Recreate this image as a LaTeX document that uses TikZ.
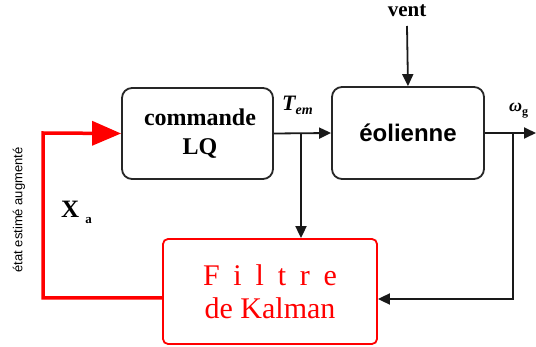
\documentclass[tikz,border=0pt]{standalone}
\usepackage{fontspec}
\setmainfont{Liberation Serif}
\setsansfont{Liberation Sans}
\usetikzlibrary{arrows.meta,calc}
\begin{document}
\begin{tikzpicture}[x=1pt,y=-1pt,
  blkbox/.style={draw=black!85,line width=1.8pt,rounded corners=10pt,align=center,inner sep=0pt},
  redbox/.style={draw=red,line width=1.8pt,rounded corners=5pt,align=center,inner sep=0pt,text=red},
  conn/.style={line width=1.8pt,draw=black!90,-{Triangle[length=12pt,width=11pt]}},
  plain/.style={line width=1.8pt,draw=black!90},
  redconn/.style={line width=3.5pt,draw=red,-{Triangle[length=29pt,width=24pt]}},
  lbl/.style={inner sep=0pt}
]
\useasboundingbox (0,0) rectangle (536,347);
\node[blkbox,minimum width=151pt,minimum height=91pt,
  font=\fontsize{24}{29}\selectfont\bfseries] (lq) at (197.5,133.5)
  {\hspace*{5pt}commande\\\hspace*{5pt}LQ};
\node[blkbox,minimum width=152pt,minimum height=92pt,
  font=\fontsize{24}{29}\selectfont\sffamily\bfseries] (eol) at (408,133) {éolienne};
\node[redbox,minimum width=214pt,minimum height=105pt,
  font=\fontsize{30}{35}\selectfont] (kal) at (270,291.5)
  {\makebox[134pt][s]{F\hfill i\hfill l\hfill t\hfill r\hfill e}\\[-2pt]de Kalman};

\node[lbl,font=\fontsize{21}{24}\selectfont\bfseries,anchor=base] (vent) at (407,17) {vent};
\draw[conn] (vent.south |- 0,26) coordinate (vs) -- (eol.north);

% Tem
\coordinate (b1) at (301,133);
\draw[conn] (lq.east) -- (eol.west);
\draw[conn] (b1) -- (b1 |- kal.north);
\node[lbl,anchor=base west] (tem) at (282,111)
  {\fontsize{22}{24}\selectfont\bfseries\itshape T\raisebox{-3.5pt}{\fontsize{14}{16}\selectfont em}};

% omega
\coordinate (out) at (536,133);
\coordinate (b2) at (513,133);
\coordinate (c2) at (513,299);
\draw[conn] (eol.east) -- (out);
\draw[conn] (b2) -- (c2) -- (c2 -| kal.east);
\node[lbl,anchor=base west] (om) at (509,112)
  {\fontsize{18}{20}\selectfont\bfseries\itshape ω\raisebox{-4pt}{\fontsize{12}{14}\selectfont\upshape g}};

% red feedback
\coordinate (r1) at (43,298);
\coordinate (r2) at (43,133);
\draw[redconn] (kal.west |- r1) -- (r1) -- (r2) -- (lq.west);

\node[lbl,anchor=base west,font=\fontsize{25}{28}\selectfont\bfseries] (xa) at (61,218)
  {X\hspace{6pt}\raisebox{-6pt}{\fontsize{13}{14}\selectfont a}};

\node[lbl,rotate=90,font=\fontsize{13}{15}\selectfont\sffamily] (etat) at (19,210) {état estimé augmenté};
\end{tikzpicture}
\end{document}
